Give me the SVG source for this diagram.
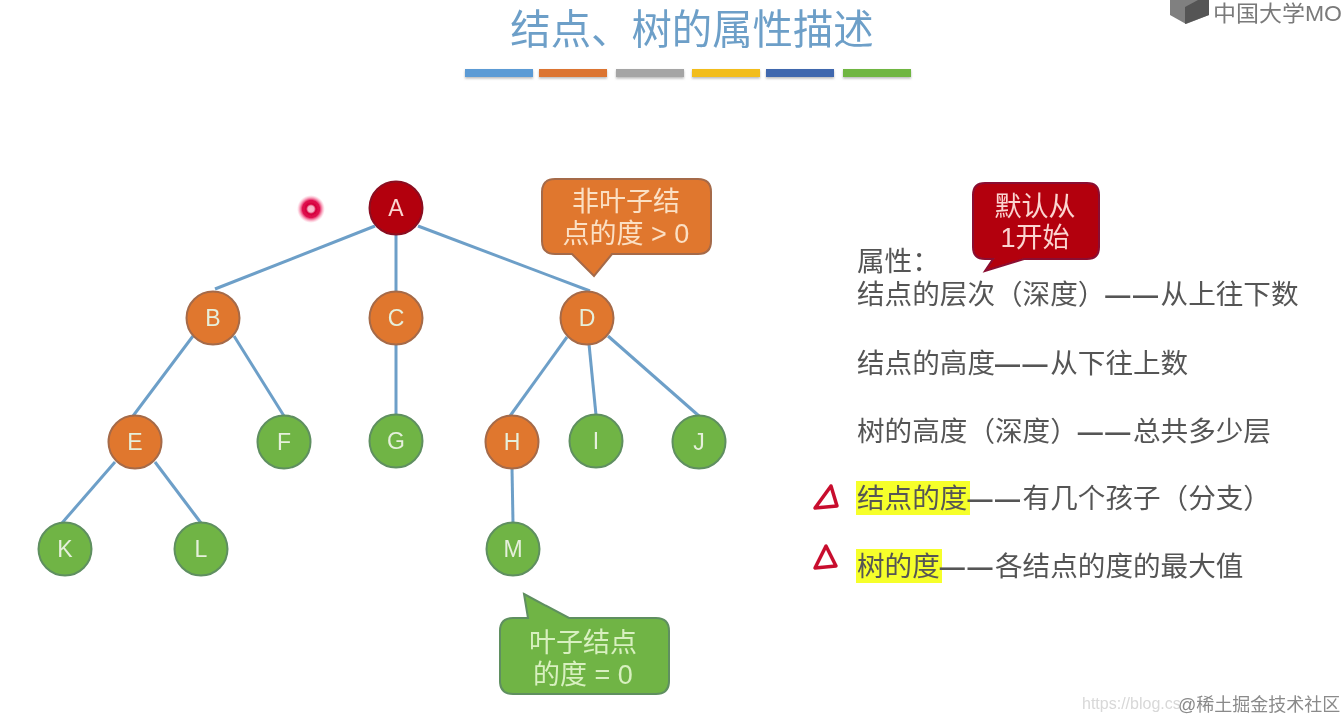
<svg xmlns="http://www.w3.org/2000/svg" width="1344" height="721" viewBox="0 0 1344 721">
<style>
text{font-family:"Liberation Sans","Noto Sans CJK SC",sans-serif}
.n circle{stroke-width:2}
.n text{font-size:23px;text-anchor:middle;fill:#e6f0dc}
.o circle{fill:#e0772f;stroke:#a56a48}
.g circle{fill:#70b445;stroke:#5f8f60}
.r circle{fill:#b30010;stroke:#8a1020}
#connectors line{stroke:#6d9fc8;stroke-width:3}
.body{font-size:27.6px;fill:#555}
.dash{font-size:25px;letter-spacing:2.6px;font-weight:bold}
.call{font-size:27px;text-anchor:middle}
.bar{height:8px;width:68px}
.tri{fill:none;stroke:#c8102e;stroke-width:3.5;stroke-linejoin:round;stroke-linecap:round}
</style>
<defs>
<radialGradient id="dot"><stop offset="0" stop-color="#ffc0d0"/><stop offset=".22" stop-color="#f4b0c4"/><stop offset=".35" stop-color="#d5003c"/><stop offset=".62" stop-color="#e01050"/><stop offset="1" stop-color="#ff90b0" stop-opacity="0"/></radialGradient>
<filter id="soft" filterUnits="userSpaceOnUse" x="0" y="0" width="1344" height="721"><feGaussianBlur stdDeviation="0.55"/></filter>
<filter id="shadow" x="-10%" y="-40%" width="120%" height="200%"><feDropShadow dx="0" dy="1.5" stdDeviation="1.2" flood-color="#888" flood-opacity=".6"/></filter>
</defs>
<rect width="1344" height="721" fill="#fff"/>
<g id="slide" filter="url(#soft)">
<g id="logo">
<path d="M1170 0H1209V15L1186 24L1170 15Z" fill="#808080"/>
<path d="M1185 7L1198 0H1209V15L1185 24Z" fill="#555"/>
<text x="1213" y="21" font-size="22" fill="#7a7a7a" textLength="129" lengthAdjust="spacingAndGlyphs">中国大学MO</text>
</g>
<text id="title" x="692" y="44" font-size="40.4" fill="#6d9fc8" text-anchor="middle">结点、树的属性描述</text>
<g id="bars" filter="url(#shadow)">
<rect class="bar" x="465" y="69" fill="#5b9bd5"/>
<rect class="bar" x="539" y="69" fill="#dc7430"/>
<rect class="bar" x="616" y="69" fill="#a5a5a5"/>
<rect class="bar" x="692" y="69" fill="#f2bd1e"/>
<rect class="bar" x="766" y="69" fill="#3f68ae"/>
<rect class="bar" x="843" y="69" fill="#6fb642"/>
</g>
<g id="connectors">
<line x1="375" y1="226" x2="215" y2="289"/>
<line x1="396" y1="234" x2="396" y2="292"/>
<line x1="418" y1="226" x2="590" y2="291"/>
<line x1="193" y1="336" x2="133" y2="416"/>
<line x1="234" y1="336" x2="284" y2="416"/>
<line x1="396" y1="344" x2="396" y2="415"/>
<line x1="567" y1="337" x2="510" y2="416"/>
<line x1="589" y1="344" x2="596" y2="415"/>
<line x1="608" y1="336" x2="699" y2="416"/>
<line x1="115" y1="462" x2="62" y2="523"/>
<line x1="155" y1="462" x2="201" y2="523"/>
<line x1="512" y1="468" x2="513" y2="523"/>
</g>
<g id="node-A" class="n r"><circle cx="396" cy="208" r="26.5"/><text x="396" y="216" style="fill:#fbd5d0">A</text></g>
<g id="node-B" class="n o"><circle cx="213" cy="318" r="26.5"/><text x="213" y="326">B</text></g>
<g id="node-C" class="n o"><circle cx="396" cy="318" r="26.5"/><text x="396" y="326">C</text></g>
<g id="node-D" class="n o"><circle cx="587" cy="318" r="26.5"/><text x="587" y="326">D</text></g>
<g id="node-E" class="n o"><circle cx="135" cy="442" r="26.5"/><text x="135" y="450">E</text></g>
<g id="node-F" class="n g"><circle cx="284" cy="442" r="26.5"/><text x="284" y="450">F</text></g>
<g id="node-G" class="n g"><circle cx="396" cy="441" r="26.5"/><text x="396" y="449">G</text></g>
<g id="node-H" class="n o"><circle cx="512" cy="442" r="26.5"/><text x="512" y="450">H</text></g>
<g id="node-I" class="n g"><circle cx="596" cy="441" r="26.5"/><text x="596" y="449">I</text></g>
<g id="node-J" class="n g"><circle cx="699" cy="442" r="26.5"/><text x="699" y="450">J</text></g>
<g id="node-K" class="n g"><circle cx="65" cy="549" r="26.5"/><text x="65" y="557">K</text></g>
<g id="node-L" class="n g"><circle cx="201" cy="549" r="26.5"/><text x="201" y="557">L</text></g>
<g id="node-M" class="n g"><circle cx="513" cy="549" r="26.5"/><text x="513" y="557">M</text></g>
<g id="callout-nonleaf">
<path d="M555 179H698Q711 179 711 192V241Q711 254 698 254H612L594 276L572 254H555Q542 254 542 241V192Q542 179 555 179Z" fill="#e0772f" stroke="#a56a48" stroke-width="2"/>
<text class="call" x="626" y="211" fill="#fbe0c4">非叶子结</text>
<text class="call" x="626" y="243" fill="#fbe0c4">点的度 &gt; 0</text>
</g>
<g id="callout-leaf">
<path d="M524 594L569 618H656Q669 618 669 631V681Q669 694 656 694H513Q500 694 500 681V631Q500 618 513 618H528Z" fill="#70b445" stroke="#5f8f60" stroke-width="2"/>
<text class="call" x="583" y="652" fill="#d8f0c0">叶子结点</text>
<text class="call" x="583" y="684" fill="#d8f0c0">的度 = 0</text>
</g>
<g id="callout-default">
<path d="M985 183H1087Q1099 183 1099 195V247Q1099 259 1087 259H1024L985 271L993 259H985Q973 259 973 247V195Q973 183 985 183Z" fill="#b30010" stroke="#8a1030" stroke-width="2"/>
<text class="call" x="1035" y="216" fill="#fbd5d0">默认从</text>
<text class="call" x="1035" y="247" fill="#fbd5d0">1开始</text>
</g>
<g id="highlights">
<rect x="856" y="481" width="114" height="34" fill="#f6ff2a"/>
<rect x="856" y="549" width="86" height="34" fill="#f6ff2a"/>
</g>
<g id="attributes">
<text class="body" x="857" y="271">属性：</text>
<text class="body" x="857" y="304">结点的层次（深度）<tspan class="dash">——</tspan>从上往下数</text>
<text class="body" x="857" y="373">结点的高度<tspan class="dash">——</tspan>从下往上数</text>
<text class="body" x="857" y="441">树的高度（深度）<tspan class="dash">——</tspan>总共多少层</text>
<text class="body" x="857" y="508">结点的度<tspan class="dash">——</tspan>有几个孩子（分支）</text>
<text class="body" x="857" y="576">树的度<tspan class="dash">——</tspan>各结点的度的最大值</text>
</g>
<g id="marks">
<path class="tri" d="M831 486L815 508L837 506Z"/>
<path class="tri" d="M826 546L815 568L836 566Z"/>
</g>
<circle id="pointer" cx="311" cy="209" r="14" fill="url(#dot)"/>
<g id="watermarks">
<text x="1082" y="709" font-size="16" fill="#d8d8d8">https://blog.cs</text>
<text x="1178" y="711" font-size="18" fill="#8a8a8a">@稀土掘金技术社区</text>
</g>
</g>
</svg>
